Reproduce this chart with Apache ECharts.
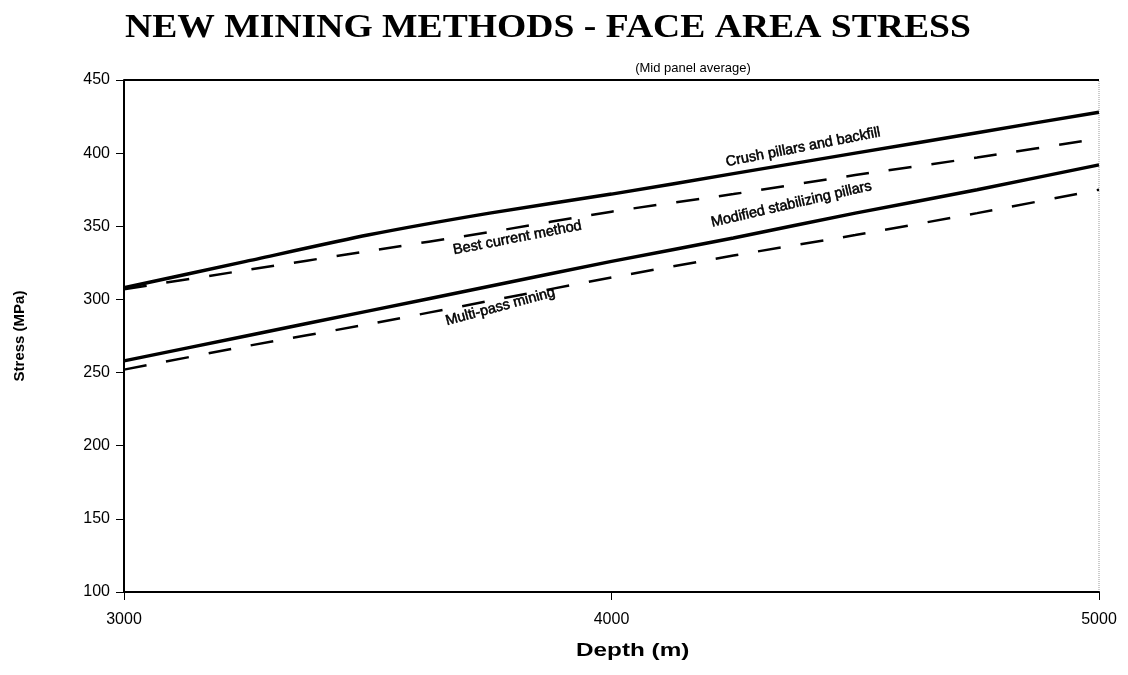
<!DOCTYPE html>
<html>
<head>
<meta charset="utf-8" />
<title>New mining methods - face area stress</title>
<style>
  html, body { margin: 0; padding: 0; background: #fff; }
  #chartmain { width: 1128px; height: 675px; }
</style>
</head>
<body>
<div id="chartmain"></div>
<script src="https://cdn.jsdelivr.net/npm/echarts@6/dist/echarts.min.js"></script>
<script>
// depth (m) and stress (MPa)
var depth = [3000, 3250, 3500, 3750, 4000, 4250, 4500, 4750, 5000];
var crushPillars = [308, 326, 344, 359, 372, 386, 400, 414, 428];
var bestCurrent = [307, 320, 333, 346, 360, 372, 385, 397, 410];
var modifiedPillars = [258, 275, 292, 309, 326, 342, 359, 375, 392];
var multiPass = [252, 268, 283, 299, 315, 330, 344, 359, 375];

// line names, written along the lines: [name, depth, stress, angle]
var lineLabels = [
  ['Crush pillars and backfill', 4393, 404, 11],
  ['Best current method', 3807, 342, 11],
  ['Modified stabilizing pillars', 4369, 365, 13],
  ['Multi-pass mining', 3772, 295, 15]
];

var sans = 'Arial, "Liberation Sans", sans-serif';

function pairs(ys) {
  return ys.map(function (y, i) { return [depth[i], y]; });
}

var labelData = lineLabels.map(function (l) {
  return {
    value: [l[1], l[2]],
    label: { show: true, formatter: l[0], rotate: l[3], position: 'inside', color: '#000', opacity: 1,
      textBorderColor: '#000', textBorderWidth: 0.5, fontFamily: sans, fontSize: 14.5 }
  };
});

var solid = { color: '#000', width: 3.5, type: 'solid' };
var dashed = { color: '#000', width: 2.5, type: [23, 20] };

var option = {
  animation: false,
  backgroundColor: '#fff',
  title: {
    text: '(Mid panel average)',
    left: 688, top: 57, textAlign: 'center',
    textStyle: { fontFamily: sans, fontWeight: 'normal', fontSize: 13, color: '#000' }
  },
  graphic: [{
    // main title, stretched a little for the wide letter spacing
    type: 'text', left: 125, top: 12, scaleX: 1.14,
    style: { text: 'NEW MINING METHODS - FACE AREA STRESS', fill: '#000',
      font: 'bold 33px "Liberation Serif", "Times New Roman", serif' }
  }, {
    type: 'text', left: 576, top: 642, scaleX: 1.35,
    style: { text: 'Depth (m)', fill: '#000', font: 'bold 18px ' + sans }
  }],
  grid: { left: 124, right: 29, top: 80, bottom: 83, show: true, borderColor: '#999', borderWidth: 1, borderType: 'dotted' },
  xAxis: {
    type: 'value', min: 3000, max: 5000, interval: 1000,
    axisLine: { lineStyle: { color: '#000', width: 2 } },
    axisTick: { show: true, length: 8, lineStyle: { color: '#000' } },
    axisLabel: {
      margin: 20, fontFamily: sans, fontSize: 16, color: '#000',
      formatter: function (v) { return String(v); }
    },
    splitLine: { show: false }
  },
  yAxis: {
    type: 'value', min: 100, max: 450, interval: 50,
    name: 'Stress (MPa)', nameLocation: 'middle', nameGap: 97,
    nameTextStyle: { fontFamily: sans, fontWeight: 'bold', fontSize: 15, color: '#000' },
    axisLine: { show: true, lineStyle: { color: '#000', width: 2 } },
    axisTick: { show: true, length: 8, lineStyle: { color: '#000' } },
    axisLabel: { margin: 14, fontFamily: sans, fontSize: 16, color: '#000' },
    splitLine: { show: false }
  },
  series: [
    { name: 'Crush pillars and backfill', type: 'line', data: pairs(crushPillars), showSymbol: false, smooth: 0.2, lineStyle: solid },
    { name: 'Best current method', type: 'line', data: pairs(bestCurrent), showSymbol: false, smooth: 0.2, lineStyle: dashed },
    { name: 'Modified stabilizing pillars', type: 'line', data: pairs(modifiedPillars), showSymbol: false, smooth: 0.2, lineStyle: solid },
    { name: 'Multi-pass mining', type: 'line', data: pairs(multiPass), showSymbol: false, smooth: 0.2, lineStyle: dashed },
    // dark top edge of the plot frame
    { type: 'line', data: [[3000, 450], [5000, 450]], showSymbol: false, silent: true,
      lineStyle: { color: '#000', width: 2 } },
    // names written along the lines
    { type: 'scatter', data: labelData, symbolSize: 1, silent: true, itemStyle: { color: '#fff', opacity: 0 } }
  ]
};

var myChart = echarts.init(document.getElementById('chartmain'));
myChart.setOption(option);
</script>
</body>
</html>
